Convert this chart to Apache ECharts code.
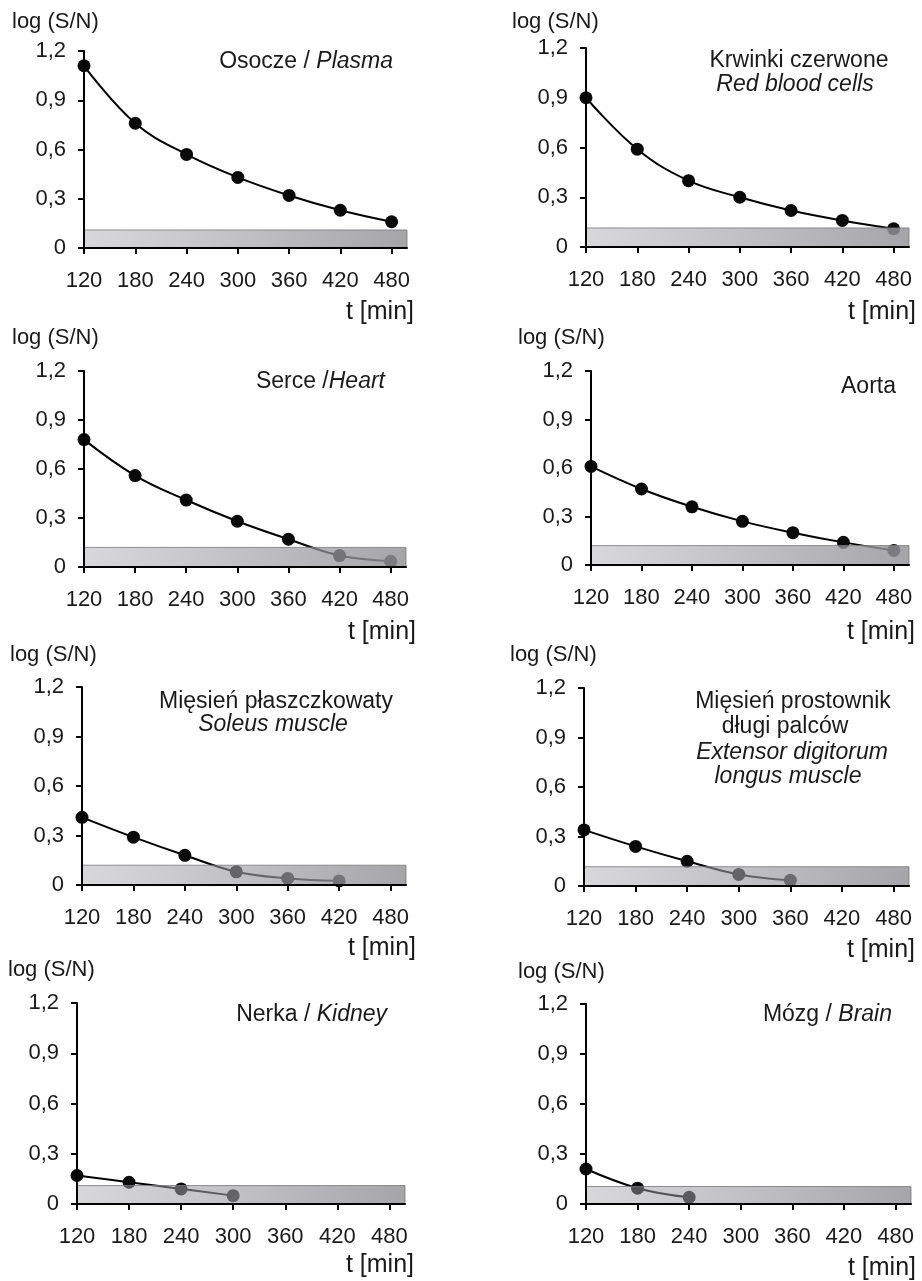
<!DOCTYPE html>
<html><head><meta charset="utf-8">
<script src="https://cdn.jsdelivr.net/npm/echarts@6/dist/echarts.min.js"></script>
<style>html,body{margin:0;background:#fff}#c{width:922px;height:1281px}</style>
</head><body><div id="c"></div>
<script>
const FONT = '"Liberation Sans", Arial, Helvetica, sans-serif';
// ---- data ----
const times = [120, 180, 240, 300, 360, 420, 480];
const xTicks = [120, 180, 240, 300, 360, 420, 480];
const xMax = 498;
const yTicks = [0, 0.3, 0.6, 0.9, 1.2];
const yTickLabels = ['0', '0,3', '0,6', '0,9', '1,2'];
const yAxisName = 'log (S/N)';
const xAxisName = 't [min]';
const plasma   = [1.11, 0.76, 0.57, 0.43, 0.32, 0.23, 0.16];
const redCells = [0.90, 0.59, 0.40, 0.30, 0.22, 0.16, 0.11];
const heart    = [0.78, 0.56, 0.41, 0.28, 0.17, 0.07, 0.035];
const aorta    = [0.61, 0.47, 0.36, 0.27, 0.20, 0.14, 0.09];
const soleus   = [0.41, 0.29, 0.18, 0.08, 0.04, 0.025];
const edl      = [0.34, 0.24, 0.15, 0.07, 0.035];
const kidney   = [0.17, 0.13, 0.09, 0.05];
const brain    = [0.21, 0.095, 0.04];
const bandTops = [0.11, 0.115, 0.12, 0.12, 0.12, 0.117, 0.11, 0.105];
// title lines: [text, italic]
const titlePlasma = [[['Osocze / ', false], ['Plasma', true]]];
const titleRed    = [[['Krwinki czerwone', false]], [['Red blood cells', true]]];
const titleHeart  = [[['Serce /', false], ['Heart', true]]];
const titleAorta  = [[['Aorta', false]]];
const titleSoleus = [[['Mięsień płaszczkowaty', false]], [['Soleus muscle', true]]];
const titleEdl    = [[['Mięsień prostownik', false]], [['długi palców', false]], [['Extensor digitorum', true]], [['longus muscle', true]]];
const titleKidney = [[['Nerka / ', false], ['Kidney', true]]];
const titleBrain  = [[['Mózg / ', false], ['Brain', true]]];

const seriesVals = [plasma, redCells, heart, aorta, soleus, edl, kidney, brain];
const titles = [titlePlasma, titleRed, titleHeart, titleAorta, titleSoleus, titleEdl, titleKidney, titleBrain];

// ---- layout ----
const L = [
 {grid:[84,51,323,197],   ylab:[12,22],   tlab:[414,312],  align:'right',  xs:[393],             ys:[62]},
 {grid:[586,48,323,199],  ylab:[512,22],  tlab:[916,312],  align:'center', xs:[799,795],         ys:[61,85]},
 {grid:[84,371,322,196],  ylab:[12,338],  tlab:[416,632],  align:'right',  xs:[385],             ys:[382]},
 {grid:[591,371,318,194], ylab:[518,338], tlab:[915,632],  align:'right',  xs:[896],             ys:[387]},
 {grid:[82,687,324,198],  ylab:[10,655],  tlab:[416,948],  align:'center', xs:[276,273],         ys:[702,725]},
 {grid:[584,688,325,198], ylab:[510,655], tlab:[915,950],  align:'center', xs:[793,785,792,788], ys:[702,727,753,777]},
 {grid:[77,1003,328,201], ylab:[8,970],   tlab:[414,1265], align:'right',  xs:[387],             ys:[1015]},
 {grid:[586,1004,325,200],ylab:[518,972], tlab:[916,1268], align:'right',  xs:[892],             ys:[1015]}
];

const TXT = '#1a1a1a';
const grids = [], xAxes = [], yAxes = [], series = [], graphics = [];
L.forEach((p, k) => {
  grids.push({left:p.grid[0], top:p.grid[1], width:p.grid[2], height:p.grid[3], containLabel:false});
  xAxes.push({
    type:'value', gridIndex:k, min:120, max:xMax, z:10,
    axisLine:{show:true, onZero:false, lineStyle:{color:'#000', width:2}},
    axisTick:{show:true, length:6, lineStyle:{color:'#000', width:2}, customValues:xTicks},
    axisLabel:{customValues:xTicks, margin:22, fontSize:22, fontFamily:FONT, color:TXT},
    splitLine:{show:false}
  });
  yAxes.push({
    type:'value', gridIndex:k, min:0, max:1.2, interval:0.3, z:10,
    axisLine:{show:true, lineStyle:{color:'#000', width:2}},
    axisTick:{show:true, length:6, lineStyle:{color:'#000', width:2}},
    axisLabel:{margin:18, fontSize:22, fontFamily:FONT, color:TXT,
      formatter: v => { const i = yTicks.findIndex(t => Math.abs(t - v) < 1e-6); return i >= 0 ? yTickLabels[i] : ''; }},
    splitLine:{show:false}
  });
  const vals = seriesVals[k];
  series.push({
    type:'line', xAxisIndex:k, yAxisIndex:k, z:2,
    data: vals.map((v, i) => [times[i], v]),
    smooth:0.4,
    symbol:'circle', symbolSize:13,
    lineStyle:{color:'#000', width:2},
    itemStyle:{color:'#0a0a0a'},
    clip:false, animation:false
  });
  series.push({
    type:'custom', xAxisIndex:k, yAxisIndex:k, z:5,
    data:[[bandTops[k]]],
    renderItem:(params, api) => {
      const top = api.value(0);
      const p1 = api.coord([120, top]);
      const p2 = api.coord([xMax, 0]);
      return {type:'rect', shape:{x:p1[0], y:p1[1], width:p2[0]-p1[0], height:p2[1]-p1[1]},
        style:{fill:{type:'linear', x:0, y:0, x2:1, y2:0, colorStops:[
          {offset:0, color:'rgba(162,162,166,0.42)'},
          {offset:1, color:'rgba(148,148,153,0.84)'}]},
          stroke:'rgba(120,120,124,0.8)', lineWidth:1}};
    },
    silent:true, animation:false
  });
  graphics.push({type:'text', x:p.ylab[0], y:p.ylab[1],
    style:{text:yAxisName, fontSize:22, fontFamily:FONT, fill:TXT, align:'left', verticalAlign:'middle'}});
  graphics.push({type:'text', x:p.tlab[0], y:p.tlab[1],
    style:{text:xAxisName, fontSize:25, fontFamily:FONT, fill:TXT, align:'right', verticalAlign:'middle'}});
  titles[k].forEach((line, j) => {
    const txt = line.map(s => '{' + (s[1] ? 'i' : 'n') + '|' + s[0] + '}').join('');
    graphics.push({type:'text', x:p.xs[Math.min(j, p.xs.length-1)], y:p.ys[j],
      style:{text:txt, align:p.align, verticalAlign:'middle',
        rich:{n:{fontSize:23, fontFamily:FONT, fill:TXT}, i:{fontSize:23, fontFamily:FONT, fontStyle:'italic', fill:TXT}}}});
  });
});

const chart = echarts.init(document.getElementById('c'), null, {renderer:'canvas'});
chart.setOption({
  backgroundColor:'#fff', animation:false,
  grid:grids, xAxis:xAxes, yAxis:yAxes, series:series, graphic:graphics
});
</script></body></html>
